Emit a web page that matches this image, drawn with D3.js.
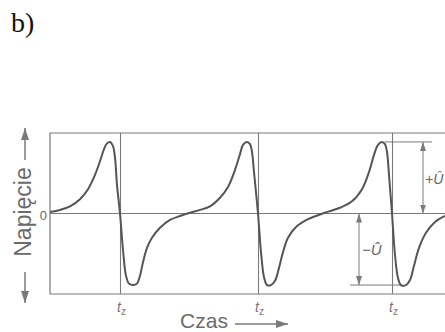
<!DOCTYPE html>
<html>
<head>
<meta charset="utf-8">
<script src="https://cdn.jsdelivr.net/npm/d3@7"></script>
<style>
  body { margin: 0; background: #fff; }
  svg { display: block; }
</style>
</head>
<body>
<div id="chart"></div>
<script>
// time (arbitrary units) and voltage (in units of U-hat)
var time = [0, 10, 20, 30, 38, 45, 50, 54, 57, 60, 63, 65, 67, 70, 73, 76, 79, 83, 87, 90, 93, 97,
            102, 110, 120, 130, 140, 150, 160, 170, 178, 185, 190, 193, 197, 200, 202, 204, 208,
            211, 214, 217, 221, 225, 229, 233, 238, 246, 258, 275, 290, 302, 312, 319, 324, 328,
            332, 335, 337, 339, 342, 345, 348, 351, 356, 360, 364, 369, 376, 385, 395];
var voltage = [0.02, 0.05, 0.10, 0.20, 0.34, 0.54, 0.73, 0.90, 0.98, 1.0, 0.94, 0.78, 0.40, 0, -0.51,
               -0.87, -0.98, -1.0, -0.98, -0.87, -0.68, -0.48, -0.34, -0.20, -0.09, -0.035, 0.01,
               0.05, 0.10, 0.22, 0.37, 0.61, 0.83, 0.96, 1.0, 0.97, 0.86, 0.58, 0, -0.54, -0.89,
               -1.0, -1.0, -0.94, -0.76, -0.54, -0.34, -0.19, -0.08, 0.01, 0.08, 0.17, 0.34, 0.58,
               0.82, 0.96, 1.0, 0.97, 0.86, 0.54, 0, -0.58, -0.90, -1.0, -1.0, -0.93, -0.73, -0.48,
               -0.27, -0.12, -0.035];
var tzTimes = [70, 208, 342];
var tzLabel = ["t", "z"];
var zeroLabel = "0";
var amplitude = 1;          // U-hat
var plusUAt = 373, minusUAt = 309;

var W = 445, H = 332;
var box = { left: 50, right: 445, top: 133, bottom: 294 };
var grey = "#7a7a7a", curveCol = "#555";

var svg = d3.select("#chart").append("svg")
    .attr("width", W).attr("height", H)
    .style("font-family", "'Liberation Sans', Arial, sans-serif");

var defs = svg.append("defs");
function head(id, w, l) {
  defs.append("marker").attr("id", id)
      .attr("viewBox", "0 0 " + l + " " + w)
      .attr("refX", l).attr("refY", w / 2)
      .attr("markerWidth", l).attr("markerHeight", w)
      .attr("markerUnits", "userSpaceOnUse")
      .attr("orient", "auto-start-reverse")
    .append("path")
      .attr("d", "M0,0L" + l + "," + (w / 2) + "L0," + w + "Z")
      .attr("fill", grey);
}
head("big", 8, 12);
head("small", 6, 9);

var x = d3.scaleLinear().domain([0, 395]).range([box.left, box.right]);
var y = d3.scaleLinear().domain([-1.125, 1.125]).range([box.bottom, box.top]);

// frame
svg.append("path")
    .attr("d", "M" + box.right + "," + box.top + "H" + box.left + "V" + box.bottom + "H" + box.right)
    .attr("fill", "none").attr("stroke", grey).attr("stroke-width", 1.2);

// zero line
svg.append("line")
    .attr("x1", box.left).attr("x2", box.right)
    .attr("y1", y(0)).attr("y2", y(0))
    .attr("stroke", grey).attr("stroke-width", 1);

svg.append("text").attr("x", 47).attr("y", y(0) + 6)
    .attr("text-anchor", "end").attr("font-size", 13).attr("fill", "#666")
    .text(zeroLabel);

// tz verticals via axis
var ax = svg.append("g")
    .attr("transform", "translate(0," + box.bottom + ")")
    .call(d3.axisBottom(x).tickValues(tzTimes)
      .tickSize(-(box.bottom - box.top)).tickFormat(function () { return ""; }));
ax.select(".domain").remove();
ax.selectAll(".tick line").attr("stroke", grey).attr("stroke-width", 1.1);
ax.selectAll(".tick text").remove();
var lab = ax.selectAll(".tick").append("text")
    .attr("x", 1).attr("y", 18).attr("text-anchor", "middle")
    .attr("fill", "#777").attr("font-size", 14);
lab.append("tspan").attr("font-style", "italic").text(tzLabel[0]);
lab.append("tspan").attr("font-size", 10).attr("dy", 3).text(tzLabel[1]);

// dimension lines
function dimV(t, v0, v1) {
  svg.append("line")
      .attr("x1", x(t)).attr("x2", x(t))
      .attr("y1", y(v0)).attr("y2", y(v1))
      .attr("stroke", grey).attr("stroke-width", 1)
      .attr("marker-start", "url(#small)").attr("marker-end", "url(#small)");
}
svg.append("line").attr("x1", x(335)).attr("x2", x(382))
    .attr("y1", y(amplitude)).attr("y2", y(amplitude))
    .attr("stroke", grey).attr("stroke-width", 1);
svg.append("line").attr("x1", x(300)).attr("x2", x(350))
    .attr("y1", y(-amplitude)).attr("y2", y(-amplitude))
    .attr("stroke", grey).attr("stroke-width", 1);
dimV(plusUAt, 0, amplitude);
dimV(minusUAt, 0, -amplitude);

svg.append("text").attr("x", x(plusUAt) + 2).attr("y", y(amplitude / 2) + 6)
    .attr("font-size", 14).attr("fill", "#666").attr("font-style", "italic")
    .text("+\u00DB");
svg.append("text").attr("x", x(minusUAt) + 3).attr("y", y(-amplitude / 2) + 6)
    .attr("font-size", 15).attr("fill", "#666").attr("font-style", "italic")
    .text("\u2212\u00DB");

// waveform
var pts = time.map(function (t, i) { return [t, voltage[i]]; });
svg.append("path")
    .datum(pts)
    .attr("fill", "none").attr("stroke", curveCol).attr("stroke-width", 2)
    .attr("stroke-linejoin", "round")
    .attr("d", d3.line()
      .x(function (d) { return x(d[0]); })
      .y(function (d) { return y(d[1]); })
      .curve(d3.curveCatmullRom.alpha(0.5)));

// axis titles with arrows
svg.append("text")
    .attr("transform", "translate(31,212) rotate(-90)")
    .attr("text-anchor", "middle").attr("font-size", 23).attr("fill", "#6a6a6a")
    .text("Napięcie");
svg.append("line").attr("x1", 25).attr("x2", 25).attr("y1", 160).attr("y2", 128)
    .attr("stroke", grey).attr("stroke-width", 1.5).attr("marker-end", "url(#big)");
svg.append("line").attr("x1", 25).attr("x2", 25).attr("y1", 272).attr("y2", 303)
    .attr("stroke", grey).attr("stroke-width", 1.5).attr("marker-end", "url(#big)");

svg.append("text").attr("x", 204).attr("y", 328)
    .attr("text-anchor", "middle").attr("font-size", 21).attr("fill", "#6a6a6a")
    .text("Czas");
svg.append("line").attr("x1", 235).attr("x2", 288).attr("y1", 324).attr("y2", 324)
    .attr("stroke", grey).attr("stroke-width", 1.5).attr("marker-end", "url(#big)");

// panel letter
svg.append("text").attr("x", 11).attr("y", 32)
    .attr("font-family", "'Liberation Serif', 'Times New Roman', serif")
    .attr("font-size", 28).attr("fill", "#111")
    .text("b)");
</script>
</body>
</html>
